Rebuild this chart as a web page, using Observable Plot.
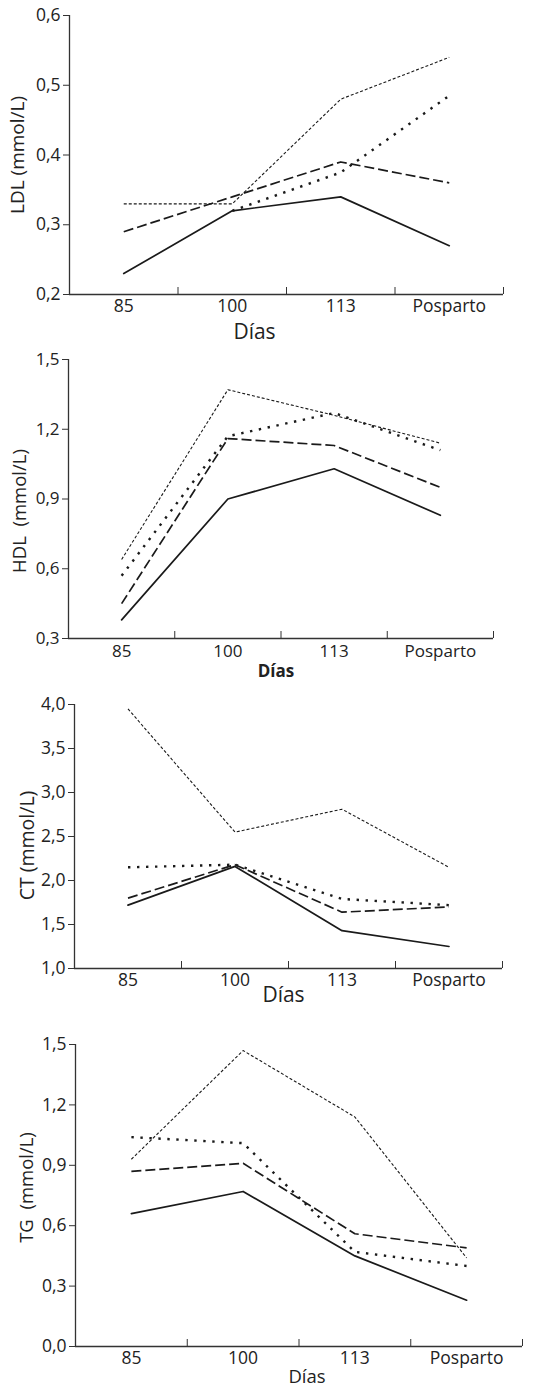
<!DOCTYPE html>
<html><head><meta charset="utf-8">
<script src="https://cdn.jsdelivr.net/npm/d3@7"></script>
<script src="https://cdn.jsdelivr.net/npm/@observablehq/plot@0.6"></script>
<style>
body{margin:0;background:#fff;}
#charts{width:550px;}
#charts svg{display:block;}
</style>
</head><body><div id="charts"></div>
<script>
// Categories (x axis)
const categories = ["85", "100", "113", "Posparto"];
const boundaries = [0.5, 1.5, 2.5, 3.5];

// LDL (mmol/L)
const ldlSolid    = [0.23, 0.32, 0.34, 0.27];
const ldlLongDash = [0.29, 0.34, 0.39, 0.36];
const ldlFineDot  = [0.33, 0.33, 0.48, 0.54];
const ldlHeavyDot = [null, 0.32, 0.375, 0.485];
const ldlTicks = [0.2, 0.3, 0.4, 0.5, 0.6];

// HDL (mmol/L)
const hdlSolid    = [0.38, 0.90, 1.03, 0.83];
const hdlLongDash = [0.45, 1.16, 1.13, 0.95];
const hdlFineDot  = [0.64, 1.37, 1.26, 1.14];
const hdlHeavyDot = [0.57, 1.17, 1.27, 1.11];
const hdlTicks = [0.3, 0.6, 0.9, 1.2, 1.5];

// CT (mmol/L)
const ctSolid    = [1.72, 2.16, 1.43, 1.25];
const ctLongDash = [1.80, 2.18, 1.64, 1.70];
const ctFineDot  = [3.95, 2.55, 2.81, 2.15];
const ctHeavyDot = [2.15, 2.18, 1.79, 1.72];
const ctTicks = [1.0, 1.5, 2.0, 2.5, 3.0, 3.5, 4.0];

// TG (mmol/L)
const tgSolid    = [0.66, 0.77, 0.45, 0.23];
const tgLongDash = [0.87, 0.91, 0.56, 0.49];
const tgFineDot  = [0.93, 1.47, 1.14, 0.44];
const tgHeavyDot = [1.04, 1.01, 0.47, 0.40];
const tgTicks = [0.0, 0.3, 0.6, 0.9, 1.2, 1.5];

const lineStyles = [
  {stroke: "#1a1a1a", strokeWidth: 1.7},
  {stroke: "#1a1a1a", strokeWidth: 1.7, strokeDasharray: "10,4", strokeLinecap: "butt"},
  {stroke: "#1a1a1a", strokeWidth: 1.1, strokeDasharray: "3,2", strokeLinecap: "butt"},
  {stroke: "#1a1a1a", strokeWidth: 2.4, strokeDasharray: "2.4,6.6", strokeLinecap: "butt"}
];

const fmt = d => d.toFixed(1).replace(".", ",");
const axisColor = "#333";

function panel(cfg) {
  const series = cfg.series;
  const marks = [];
  const lo = cfg.ticks[0], hi = cfg.ticks[cfg.ticks.length - 1];
  marks.push(Plot.ruleY([lo], {stroke: axisColor, strokeWidth: 1.3}));
  marks.push(Plot.ruleX([-0.5], {stroke: axisColor, strokeWidth: 1.3}));
  marks.push(Plot.axisY({ticks: cfg.ticks, tickFormat: fmt, tickSize: 6, tickPadding: 3, label: null,
    stroke: axisColor, fill: "#222", fontSize: cfg.tickSize, fontWeight: cfg.tickWeight || 400}));
  marks.push(Plot.axisX({ticks: [0, 1, 2, 3], tickFormat: i => categories[i], tickSize: 0, tickPadding: cfg.xPad, label: null,
    fill: "#222", fontSize: cfg.tickSize}));
  marks.push(Plot.axisX({ticks: boundaries, tickFormat: () => "", tickSize: -7, label: null, stroke: axisColor}));
  series.forEach((vals, k) => {
    const rows = vals.map((v, i) => ({x: i, y: v}));
    marks.push(Plot.line(rows, {x: "x", y: "y", ...lineStyles[k]}));
  });
  marks.push(Plot.text([cfg.yLabel], {frameAnchor: "left", rotate: -90, textAnchor: "middle", lineAnchor: "middle",
    dx: cfg.yLabelDx, dy: cfg.yLabelDy, fontSize: cfg.yLabelSize, fill: "#222", text: d => d}));
  marks.push(Plot.text(["Días"], {frameAnchor: "bottom", textAnchor: "middle", lineAnchor: "middle",
    dx: cfg.diasDx, dy: cfg.diasDy, fontSize: cfg.diasSize, fontWeight: cfg.diasWeight || 400, fill: "#222", text: d => d}));
  return Plot.plot({
    width: 550,
    height: cfg.height,
    marginTop: cfg.mt, marginBottom: cfg.mb, marginLeft: cfg.ml, marginRight: cfg.mr,
    style: {fontFamily: "'Open Sans', sans-serif", background: "#fff", overflow: "visible", color: "#222"},
    x: {type: "linear", domain: [-0.5, 3.5]},
    y: {type: "linear", domain: [lo, hi]},
    marks
  });
}

const root = document.getElementById("charts");
root.append(panel({
  series: [ldlSolid, ldlLongDash, ldlFineDot, ldlHeavyDot], ticks: ldlTicks,
  height: 345, mt: 15, mb: 51, ml: 69, mr: 47, tickSize: 17.5, tickWeight: 500, xPad: 5,
  yLabel: "LDL (mmol/L)", yLabelDx: -52, yLabelDy: 0, yLabelSize: 19,
  diasDx: -32, diasDy: 38, diasSize: 21
}));
root.append(panel({
  series: [hdlSolid, hdlLongDash, hdlFineDot, hdlHeavyDot], ticks: hdlTicks,
  height: 345, mt: 14, mb: 52, ml: 68, mr: 57, tickSize: 17, xPad: 6,
  yLabel: "HDL\u00a0\u00a0(mmol/L)", yLabelDx: -48, yLabelDy: 12, yLabelSize: 18.5,
  diasDx: -5, diasDy: 33, diasSize: 17, diasWeight: 700
}));
root.append(panel({
  series: [ctSolid, ctLongDash, ctFineDot, ctHeavyDot], ticks: ctTicks,
  height: 320, mt: 14, mb: 42, ml: 74, mr: 48, tickSize: 17.5, xPad: 5,
  yLabel: "CT (mmol/L)", yLabelDx: -47, yLabelDy: 9, yLabelSize: 19.5,
  diasDx: -5, diasDy: 27, diasSize: 21
}));
root.append(panel({
  series: [tgSolid, tgLongDash, tgFineDot, tgHeavyDot], ticks: tgTicks,
  height: 380, mt: 34, mb: 44, ml: 75, mr: 28, tickSize: 17.5, xPad: 5,
  yLabel: "TG\u00a0\u00a0(mmol/L)", yLabelDx: -48, yLabelDy: -8, yLabelSize: 18.5,
  diasDx: 8, diasDy: 31, diasSize: 18.5
}));
</script>
</body></html>
